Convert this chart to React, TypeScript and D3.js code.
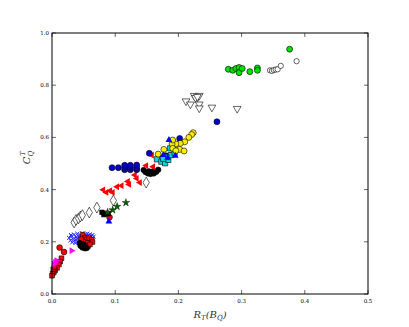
import React from "react";
import * as d3 from "d3";

type P = [number, number];

const xTicks = [0.0, 0.1, 0.2, 0.3, 0.4, 0.5];
const yTicks = [0.0, 0.2, 0.4, 0.6, 0.8, 1.0];

const greenCircles: P[] = [[0.279,0.861],[0.286,0.857],[0.291,0.864],[0.296,0.868],[0.296,0.848],[0.301,0.864],[0.313,0.852],[0.325,0.866],[0.325,0.857],[0.376,0.938]];
const openCircles: P[] = [[0.345,0.857],[0.348,0.855],[0.351,0.858],[0.354,0.86],[0.357,0.861],[0.362,0.874],[0.387,0.892]];
const openTriDown: P[] = [[0.212,0.739],[0.219,0.727],[0.225,0.760],[0.229,0.748],[0.233,0.760],[0.227,0.752],[0.230,0.756],[0.233,0.727],[0.233,0.712],[0.253,0.715],[0.293,0.710]];
const blueCircles: P[] = [[0.261,0.660],[0.095,0.484],[0.105,0.484],[0.115,0.476],[0.115,0.484],[0.115,0.493],[0.124,0.476],[0.124,0.484],[0.124,0.493],[0.134,0.476],[0.134,0.484],[0.134,0.494],[0.154,0.539],[0.202,0.596],[0.180,0.53]];
const blueTriangles: P[] = [[0.185,0.59],[0.176,0.532],[0.183,0.522],[0.195,0.53],[0.09,0.278]];
const yellowCircles: P[] = [[0.2234,0.618],[0.221,0.611],[0.2165,0.600],[0.210,0.583],[0.203,0.577],[0.196,0.575],[0.190,0.575],[0.191,0.558],[0.202,0.554],[0.209,0.548],[0.196,0.549],[0.177,0.554],[0.168,0.536],[0.191,0.590]];
const cyanSquares: P[] = [[0.166,0.516],[0.173,0.507],[0.179,0.501],[0.184,0.514],[0.188,0.532],[0.187,0.558],[0.192,0.564],[0.181,0.525],[0.194,0.541],[0.176,0.518]];
const blackCircles: P[] = [[0.145,0.475],[0.148,0.467],[0.152,0.462],[0.156,0.460],[0.161,0.462],[0.165,0.468],[0.168,0.476],[0.153,0.470],[0.160,0.470],[0.045,0.185],[0.048,0.178],[0.052,0.175],[0.055,0.176],[0.05,0.19],[0.044,0.195]];
const redTriLeft: P[] = [[0.081,0.399],[0.086,0.389],[0.092,0.396],[0.096,0.389],[0.103,0.411],[0.110,0.415],[0.120,0.431],[0.122,0.420],[0.131,0.456],[0.134,0.443],[0.139,0.427],[0.149,0.492],[0.160,0.488],[0.158,0.532],[0.185,0.532]];
const openDiamonds: P[] = [[0.035,0.274],[0.038,0.284],[0.042,0.290],[0.045,0.297],[0.048,0.302],[0.059,0.312],[0.071,0.331],[0.097,0.358],[0.149,0.427]];
const greenStars: P[] = [[0.103,0.335],[0.117,0.350],[0.096,0.322],[0.088,0.313]];
const blackSquares: P[] = [[0.079,0.313],[0.084,0.309],[0.089,0.307],[0.082,0.304]];
const redCircles: P[] = [[0.091,0.294],[0.012,0.178],[0.019,0.161]];
const redSquares: P[] = [[0.015,0.137],[0.013,0.124],[0.011,0.113],[0.008,0.1],[0.005,0.091],[0.003,0.084],[0.001,0.078],[0.0,0.07],[0.002,0.095],[0.004,0.104],[0.0485,0.227],[0.052,0.215],[0.055,0.208],[0.059,0.214],[0.063,0.208],[0.055,0.196],[0.0495,0.199],[0.057,0.184],[0.064,0.199],[0.06,0.19],[0.046,0.21]];
const magentaTriRight: P[] = [[0.031,0.166],[0.005,0.121],[0.007,0.128],[0.003,0.114]];
const blueCross: P[] = [[0.027,0.215],[0.029,0.205],[0.031,0.222],[0.032,0.198],[0.033,0.212],[0.035,0.228],[0.036,0.205],[0.037,0.195],[0.038,0.218],[0.039,0.210],[0.040,0.231],[0.041,0.200],[0.042,0.222],[0.043,0.213],[0.044,0.205],[0.045,0.226],[0.046,0.195],[0.047,0.218],[0.048,0.233],[0.049,0.208],[0.050,0.222],[0.051,0.214],[0.052,0.228],[0.054,0.220],[0.056,0.231],[0.058,0.224],[0.060,0.229],[0.062,0.222],[0.064,0.226],[0.066,0.220],[0.034,0.202],[0.030,0.226]];

const W = 409, H = 327;
const L = 52, R = 368, T = 33, B = 294;

export default function App() {
  const x = d3.scaleLinear().domain([0, 0.5]).range([L, R]);
  const y = d3.scaleLinear().domain([0, 1]).range([B, T]);
  const sym = (type: d3.SymbolType, size: number) => d3.symbol().type(type).size(size)() as string;
  const series: { data: P[]; path: string; rot: number; fill: string; stroke: string; sw: number }[] = [
    { data: blueCross, path: sym(d3.symbolX, 12), rot: 0, fill: "none", stroke: "#2a2aff", sw: 1 },
    { data: redSquares, path: sym(d3.symbolSquare, 22), rot: 0, fill: "#ff0000", stroke: "#000", sw: 0.6 },
    { data: blackCircles, path: sym(d3.symbolCircle, 24), rot: 0, fill: "#000", stroke: "#000", sw: 0.6 },
    { data: magentaTriRight, path: sym(d3.symbolTriangle, 20), rot: 90, fill: "#ff00ff", stroke: "none", sw: 0 },
    { data: redCircles, path: sym(d3.symbolCircle, 26), rot: 0, fill: "#ff0000", stroke: "#000", sw: 0.6 },
    { data: openDiamonds, path: sym(d3.symbolDiamond, 34), rot: 0, fill: "#fff", stroke: "#000", sw: 0.6 },
    { data: blackSquares, path: sym(d3.symbolSquare, 20), rot: 0, fill: "#000", stroke: "#000", sw: 0.6 },
    { data: greenStars, path: sym(d3.symbolStar, 18), rot: 0, fill: "#006400", stroke: "#000", sw: 0.4 },
    { data: redTriLeft, path: sym(d3.symbolTriangle, 20), rot: -90, fill: "#ff0000", stroke: "none", sw: 0 },
    { data: blueCircles, path: sym(d3.symbolCircle, 28), rot: 0, fill: "#0000cc", stroke: "#000", sw: 0.6 },
    { data: cyanSquares, path: sym(d3.symbolSquare, 28), rot: 0, fill: "#00d8d8", stroke: "#000", sw: 0.6 },
    { data: yellowCircles, path: sym(d3.symbolCircle, 28), rot: 0, fill: "#ffee00", stroke: "#000", sw: 0.6 },
    { data: blueTriangles, path: sym(d3.symbolTriangle, 20), rot: 0, fill: "#0000ff", stroke: "none", sw: 0 },
    { data: openTriDown, path: sym(d3.symbolTriangle, 26), rot: 180, fill: "#fff", stroke: "#000", sw: 0.6 },
    { data: openCircles, path: sym(d3.symbolCircle, 22), rot: 0, fill: "#fff", stroke: "#000", sw: 0.6 },
    { data: greenCircles, path: sym(d3.symbolCircle, 28), rot: 0, fill: "#00e000", stroke: "#000", sw: 0.6 },
  ];
  const tickFont = { fontFamily: "DejaVu Serif", fontSize: 5.5, fill: "#000" } as const;
  return (
    <svg width={W} height={H} style={{ position: "absolute", left: 0, top: 0, background: "#fff" }}>
      <rect x={0} y={0} width={W} height={H} fill="#fff" />
      {series.map((s, i) => (
        <g key={i}>
          {s.data.map((d, j) => (
            <path key={j} d={s.path} transform={`translate(${x(d[0])},${y(d[1])}) rotate(${s.rot})`}
              fill={s.fill} stroke={s.stroke} strokeWidth={s.sw} />
          ))}
        </g>
      ))}
      <rect x={L} y={T} width={R - L} height={B - T} fill="none" stroke="#000" strokeWidth={1} />
      {xTicks.map((t) => (
        <g key={"x" + t}>
          <line x1={x(t)} x2={x(t)} y1={B} y2={B - 4} stroke="#000" strokeWidth={0.6} />
          <line x1={x(t)} x2={x(t)} y1={T} y2={T + 4} stroke="#000" strokeWidth={0.6} />
          <text x={x(t)} y={B + 9} textAnchor="middle" {...tickFont}>{t.toFixed(1)}</text>
        </g>
      ))}
      {yTicks.map((t) => (
        <g key={"y" + t}>
          <line x1={L} x2={L + 4} y1={y(t)} y2={y(t)} stroke="#000" strokeWidth={0.6} />
          <line x1={R} x2={R - 4} y1={y(t)} y2={y(t)} stroke="#000" strokeWidth={0.6} />
          <text x={L - 3} y={y(t) + 2} textAnchor="end" {...tickFont}>{t.toFixed(1)}</text>
        </g>
      ))}
      <text x={(L + R) / 2} y={B + 24} textAnchor="middle" fontFamily="DejaVu Serif" fontStyle="italic" fontSize={10} fill="#333">
        R<tspan fontSize={7} dy={2}>T</tspan><tspan dy={-2}>(B</tspan><tspan fontSize={7} dy={2}>Q</tspan><tspan dy={-2}>)</tspan>
      </text>
      <g transform={`translate(30,${(T + B) / 2 - 6}) rotate(-90)`}>
        <text textAnchor="middle" fontFamily="DejaVu Serif" fontStyle="italic" fontSize={10} fill="#333">
          C<tspan fontSize={7} dy={3}>Q</tspan><tspan fontSize={7} dx={-5} dy={-8}>T</tspan>
        </text>
      </g>
    </svg>
  );
}
